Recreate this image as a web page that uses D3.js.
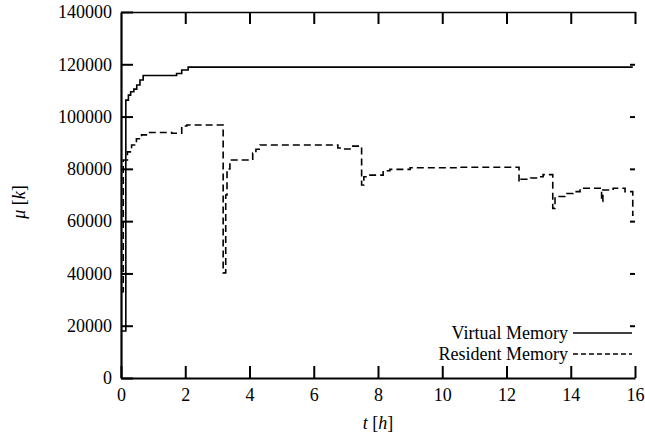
<!DOCTYPE html>
<html>
<head>
<meta charset="utf-8">
<script src="https://cdn.jsdelivr.net/npm/d3@7"></script>
<style>
  body { margin: 0; background: #fff; }
  svg { display: block; }
  text { font-family: "Liberation Serif", "Times New Roman", serif; font-size: 18px; fill: #000; }
</style>
</head>
<body>
<svg id="chart" width="645" height="439"></svg>
<script>
// time [h] / memory [k]
const virtualT = [0.00, 0.15, 0.23, 0.30, 0.40, 0.49, 0.59, 0.69, 1.73, 1.89, 2.09, 15.93];
const virtualV = [18000, 106300, 108200, 109500, 110500, 112100, 114000, 115700, 116500, 117800, 118900, 118900];

const residentT = [0.00, 0.07, 0.20, 0.33, 0.48, 0.64, 0.84, 1.58, 1.89, 2.05, 3.18, 3.26, 3.30, 3.39,
  4.10, 4.20, 4.33, 6.75, 6.91, 7.13, 7.49, 7.56, 7.65, 8.16, 8.37, 9.00, 10.50, 12.39, 12.45, 12.75,
  13.00, 13.14, 13.44, 13.51, 13.82, 14.07, 14.29, 14.96, 15.00, 15.32, 15.69, 15.93, 15.96];
const residentV = [33000, 83400, 86500, 89100, 91500, 93000, 93900, 93600, 96400, 96800, 40200, 70000, 80000, 83400,
  86000, 87500, 89100, 88000, 87600, 88700, 73800, 77000, 77600, 79300, 79800, 80400, 80600, 75100, 76000, 76500,
  77000, 77800, 64900, 69400, 70600, 71300, 72600, 67500, 71900, 72600, 71300, 62300, 62300];

const xTicks = [0, 2, 4, 6, 8, 10, 12, 14, 16];
const yTicks = [0, 20000, 40000, 60000, 80000, 100000, 120000, 140000];

const seriesNames = ['Virtual Memory', 'Resident Memory'];

const plotLeft = 121, plotRight = 635, plotTop = 12, plotBottom = 378;

const svg = d3.select('#chart');

const x = d3.scaleLinear().domain([0, 16]).range([plotLeft, plotRight]);
const y = d3.scaleLinear().domain([0, 140000]).range([plotBottom, plotTop]);

// axes, gnuplot style: ticks point inward
const gx = svg.append('g')
  .attr('transform', 'translate(0,' + plotBottom + ')')
  .call(d3.axisBottom(x).tickValues(xTicks).tickSize(-12).tickSizeOuter(0).tickPadding(10));

const gy = svg.append('g')
  .attr('transform', 'translate(' + plotLeft + ',0)')
  .call(d3.axisLeft(y).tickValues(yTicks).tickFormat(d3.format('d')).tickSize(-12).tickSizeOuter(0).tickPadding(9));

const gt = svg.append('g')
  .attr('transform', 'translate(0,' + plotTop + ')')
  .call(d3.axisTop(x).tickValues(xTicks.slice(1)).tickSize(-12).tickSizeOuter(0).tickFormat(''));

// the right border line is gone in the original, only the ticks remain
const gr = svg.append('g')
  .attr('transform', 'translate(' + plotRight + ',0)')
  .call(d3.axisRight(y).tickValues(yTicks.slice(1, -1)).tickSize(-5).tickSizeOuter(0).tickFormat(''));
gr.select('.domain').remove();

[gx, gy, gt, gr].forEach(g => {
  g.selectAll('.tick line').attr('stroke', '#000').attr('stroke-width', 2);
  g.attr('font-family', null).attr('font-size', null);
});
gx.select('.domain').attr('stroke-width', 2.2);
gy.select('.domain').attr('stroke-width', 2.2);
gt.select('.domain').attr('stroke-width', 1.6);

// axis titles
const yl = svg.append('text')
  .attr('transform', 'translate(25,202) rotate(-90)')
  .attr('text-anchor', 'middle');
yl.append('tspan').attr('font-style', 'italic').text('μ');
yl.append('tspan').text(' [');
yl.append('tspan').attr('font-style', 'italic').text('k');
yl.append('tspan').text(']');

const xl = svg.append('text')
  .attr('x', (plotLeft + plotRight) / 2)
  .attr('y', 429)
  .attr('text-anchor', 'middle');
xl.append('tspan').attr('font-style', 'italic').text('t');
xl.append('tspan').text(' [');
xl.append('tspan').attr('font-style', 'italic').text('h');
xl.append('tspan').text(']');

// lines
const line = d3.line()
  .x(d => x(d[0]))
  .y(d => y(d[1]))
  .curve(d3.curveStepAfter);

const virtualData = virtualT.map((t, i) => [t, virtualV[i]]);
const residentData = residentT.map((t, i) => [t, residentV[i]]);

svg.append('path')
  .datum(virtualData)
  .attr('d', line)
  .attr('fill', 'none')
  .attr('stroke', '#000')
  .attr('stroke-width', 1.6);

svg.append('path')
  .datum(residentData)
  .attr('d', line)
  .attr('fill', 'none')
  .attr('stroke', '#000')
  .attr('stroke-width', 1.6)
  .attr('stroke-dasharray', '7,4');

// legend
const legend = svg.append('g');
seriesNames.forEach((name, i) => {
  const ly = 333 + i * 21;
  legend.append('text')
    .attr('x', 568)
    .attr('y', ly + 6)
    .attr('text-anchor', 'end')
    .text(name);
  legend.append('line')
    .attr('x1', 573).attr('x2', 632)
    .attr('y1', ly).attr('y2', ly)
    .attr('stroke', '#000')
    .attr('stroke-width', 1.6)
    .attr('stroke-dasharray', i === 1 ? '5,3' : null);
});
</script>
</body>
</html>
